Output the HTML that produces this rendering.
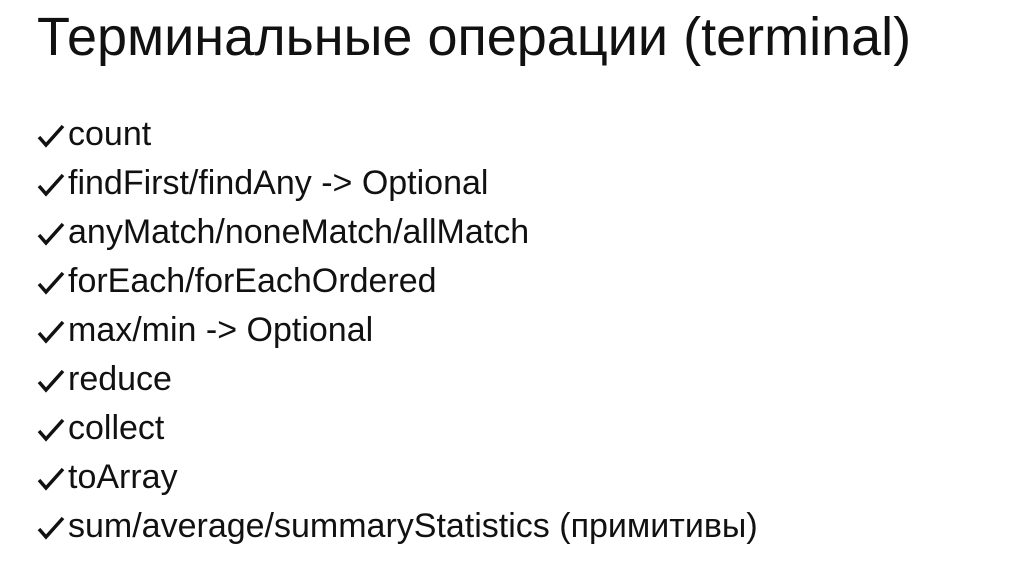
<!DOCTYPE html>
<html><head><meta charset="utf-8"><style>
html,body{margin:0;padding:0;background:#fff;}
body{width:1019px;height:575px;position:relative;overflow:hidden;font-family:"Liberation Sans","DejaVu Sans",sans-serif;color:#111;}
.t{position:absolute;left:37px;top:6px;font-size:54px;white-space:nowrap;}
.l{position:absolute;left:37px;font-size:34px;white-space:nowrap;line-height:40px;}
.c{display:inline-block;width:31px;height:40px;vertical-align:top;}
.c svg{display:block;margin-top:10px;}
</style></head><body>
<div class="t">Терминальные операции (terminal)</div>
<div class="l" style="top:114px"><span class="c"><svg width="28" height="24"><path d="M2 13 L9 21 L26 2" fill="none" stroke="#111" stroke-width="3.5"/></svg></span>count</div>
<div class="l" style="top:163px"><span class="c"><svg width="28" height="24"><path d="M2 13 L9 21 L26 2" fill="none" stroke="#111" stroke-width="3.5"/></svg></span>findFirst/findAny -&gt; Optional</div>
<div class="l" style="top:212px"><span class="c"><svg width="28" height="24"><path d="M2 13 L9 21 L26 2" fill="none" stroke="#111" stroke-width="3.5"/></svg></span>anyMatch/noneMatch/allMatch</div>
<div class="l" style="top:261px"><span class="c"><svg width="28" height="24"><path d="M2 13 L9 21 L26 2" fill="none" stroke="#111" stroke-width="3.5"/></svg></span>forEach/forEachOrdered</div>
<div class="l" style="top:310px"><span class="c"><svg width="28" height="24"><path d="M2 13 L9 21 L26 2" fill="none" stroke="#111" stroke-width="3.5"/></svg></span>max/min -&gt; Optional</div>
<div class="l" style="top:359px"><span class="c"><svg width="28" height="24"><path d="M2 13 L9 21 L26 2" fill="none" stroke="#111" stroke-width="3.5"/></svg></span>reduce</div>
<div class="l" style="top:408px"><span class="c"><svg width="28" height="24"><path d="M2 13 L9 21 L26 2" fill="none" stroke="#111" stroke-width="3.5"/></svg></span>collect</div>
<div class="l" style="top:457px"><span class="c"><svg width="28" height="24"><path d="M2 13 L9 21 L26 2" fill="none" stroke="#111" stroke-width="3.5"/></svg></span>toArray</div>
<div class="l" style="top:506px"><span class="c"><svg width="28" height="24"><path d="M2 13 L9 21 L26 2" fill="none" stroke="#111" stroke-width="3.5"/></svg></span>sum/average/summaryStatistics (примитивы)</div>
</body></html>
